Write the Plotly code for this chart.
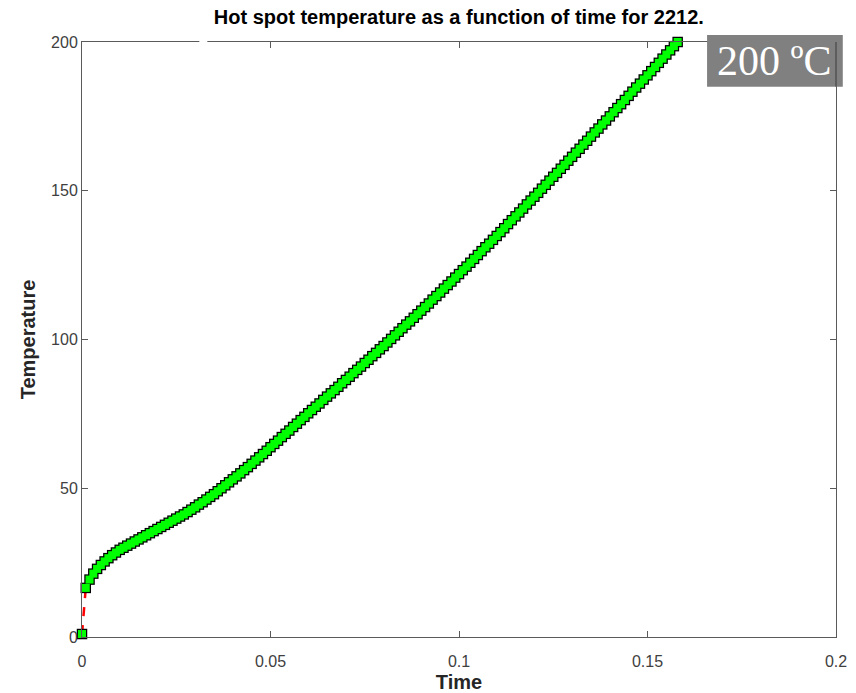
import plotly.graph_objects as go

# Time samples (s)
TIME = [0.0,
        0.001, 0.002, 0.003, 0.004, 0.005, 0.006, 0.007, 0.008, 0.009, 0.010,
        0.011, 0.012, 0.013, 0.014, 0.015, 0.016, 0.017, 0.018, 0.019, 0.020,
        0.021, 0.022, 0.023, 0.024, 0.025, 0.026, 0.027, 0.028, 0.029, 0.030,
        0.031, 0.032, 0.033, 0.034, 0.035, 0.036, 0.037, 0.038, 0.039, 0.040,
        0.041, 0.042, 0.043, 0.044, 0.045, 0.046, 0.047, 0.048, 0.049, 0.050,
        0.051, 0.052, 0.053, 0.054, 0.055, 0.056, 0.057, 0.058, 0.059, 0.060,
        0.061, 0.062, 0.063, 0.064, 0.065, 0.066, 0.067, 0.068, 0.069, 0.070,
        0.071, 0.072, 0.073, 0.074, 0.075, 0.076, 0.077, 0.078, 0.079, 0.080,
        0.081, 0.082, 0.083, 0.084, 0.085, 0.086, 0.087, 0.088, 0.089, 0.090,
        0.091, 0.092, 0.093, 0.094, 0.095, 0.096, 0.097, 0.098, 0.099, 0.100,
        0.101, 0.102, 0.103, 0.104, 0.105, 0.106, 0.107, 0.108, 0.109, 0.110,
        0.111, 0.112, 0.113, 0.114, 0.115, 0.116, 0.117, 0.118, 0.119, 0.120,
        0.121, 0.122, 0.123, 0.124, 0.125, 0.126, 0.127, 0.128, 0.129, 0.130,
        0.131, 0.132, 0.133, 0.134, 0.135, 0.136, 0.137, 0.138, 0.139, 0.140,
        0.141, 0.142, 0.143, 0.144, 0.145, 0.146, 0.147, 0.148, 0.149, 0.150,
        0.151, 0.152, 0.153, 0.154, 0.155, 0.156, 0.157, 0.158]

# Hot spot temperature
TEMPERATURE = [1.0,
               16.5, 19.3, 21.3, 22.9, 24.2, 25.4, 26.5, 27.5, 28.4, 29.3,
               30.0, 30.7, 31.4, 32.1, 32.8, 33.5, 34.2, 34.9, 35.6, 36.3,
               37.0, 37.7, 38.4, 39.1, 39.8, 40.5, 41.2, 42.0, 42.8, 43.6,
               44.5, 45.3, 46.2, 47.1, 48.0, 49.0, 50.0, 51.0, 52.0, 53.0,
               54.0, 55.0, 56.1, 57.1, 58.2, 59.3, 60.4, 61.5, 62.6, 63.8,
               64.9, 66.0, 67.2, 68.3, 69.4, 70.6, 71.7, 72.9, 74.0, 75.2,
               76.3, 77.4, 78.5, 79.7, 80.8, 81.9, 83.0, 84.1, 85.3, 86.4,
               87.5, 88.7, 89.8, 90.9, 92.1, 93.2, 94.4, 95.5, 96.7, 97.8,
               99.0, 100.2, 101.4, 102.6, 103.8, 105.0, 106.1, 107.3, 108.5, 109.7,
               110.9, 112.1, 113.4, 114.6, 115.8, 117.1, 118.3, 119.5, 120.8, 122.0,
               123.3, 124.5, 125.8, 127.1, 128.4, 129.7, 131.0, 132.2, 133.5, 134.8,
               136.1, 137.4, 138.8, 140.1, 141.4, 142.7, 144.0, 145.4, 146.7, 148.0,
               149.3, 150.7, 152.0, 153.4, 154.7, 156.0, 157.4, 158.7, 160.1, 161.4,
               162.8, 164.1, 165.5, 166.8, 168.2, 169.6, 170.9, 172.3, 173.6, 175.0,
               176.4, 177.8, 179.1, 180.5, 181.9, 183.3, 184.7, 186.0, 187.4, 188.8,
               190.2, 191.6, 193.0, 194.4, 195.8, 197.2, 198.6, 200.0]

X_TICKS = [0, 0.05, 0.1, 0.15, 0.2]
X_TICK_LABELS = ["0", "0.05", "0.1", "0.15", "0.2"]
Y_TICKS = [0, 50, 100, 150, 200]
Y_TICK_LABELS = ["0", "50", "100", "150", "200"]

TITLE = "Hot spot temperature as a function of time for 2212."
BADGE = "200 ºC"

fig = go.Figure()
# dashed connecting line
fig.add_trace(go.Scatter(
    x=TIME, y=TEMPERATURE, mode="lines",
    line=dict(color="#ff0000", width=2.5, dash="dash"),
    showlegend=False, hoverinfo="skip",
))
# marker edges (drawn first, so faces stay clean where markers overlap)
fig.add_trace(go.Scatter(
    x=TIME, y=TEMPERATURE, mode="markers",
    marker=dict(symbol="square", size=10.5, color="#000000", line=dict(width=0)),
    showlegend=False, cliponaxis=False, hoverinfo="skip",
))
# marker faces
fig.add_trace(go.Scatter(
    x=TIME, y=TEMPERATURE, mode="markers",
    marker=dict(symbol="square", size=8, color="#00ff00", line=dict(width=0)),
    showlegend=False, cliponaxis=False,
))

axis_common = dict(
    showgrid=False, zeroline=False, showline=True, linecolor="#5a5a5a",
    linewidth=1, mirror="ticks", ticks="inside", ticklen=6, tickwidth=1,
    tickcolor="#5a5a5a", automargin=False,
    tickfont=dict(family="Liberation Sans, Arial", size=16, color="#404040"),
)

fig.update_xaxes(range=[0, 0.2], tickvals=X_TICKS, ticktext=X_TICK_LABELS,
                 ticklabelstandoff=10,
                 title=dict(text="<b>Time</b>", standoff=9,
                            font=dict(family="Liberation Sans, Arial", size=20, color="#262626")),
                 **axis_common)
fig.update_yaxes(range=[0, 200], tickvals=Y_TICKS, ticktext=Y_TICK_LABELS,
                 title=dict(text="<b>Temperature</b>", standoff=10,
                            font=dict(family="Liberation Sans, Arial", size=20, color="#262626")),
                 **axis_common)

fig.update_layout(
    width=856, height=693,
    margin=dict(l=82, r=20, t=42, b=56),
    paper_bgcolor="white", plot_bgcolor="white",
    title=dict(text="<b>" + TITLE + "</b>", x=0.536, xanchor="center", y=0.975, yanchor="middle",
               font=dict(family="Liberation Sans, Arial", size=20, color="#000000")),
    shapes=[
        dict(type="line", xref="paper", yref="paper", x0=0.1556, x1=0.1662, y0=1, y1=1,
             line=dict(color="white", width=3), layer="above"),
        dict(type="rect", xref="paper", yref="paper", x0=0.829, x1=1.009, y0=0.925, y1=1.0118,
             fillcolor="#808080", line=dict(width=0), layer="above"),
        dict(type="line", xref="paper", yref="paper", x0=1, x1=1, y0=0.925, y1=1.0,
             line=dict(color="#3a3a3a", width=1), layer="above"),
    ],
    annotations=[
        dict(text=BADGE, xref="paper", yref="paper", x=0.919, y=0.968,
             xanchor="center", yanchor="middle", showarrow=False,
             font=dict(family="Liberation Serif, Times New Roman", size=42, color="white")),
    ],
)

fig.write_html("out.html")
